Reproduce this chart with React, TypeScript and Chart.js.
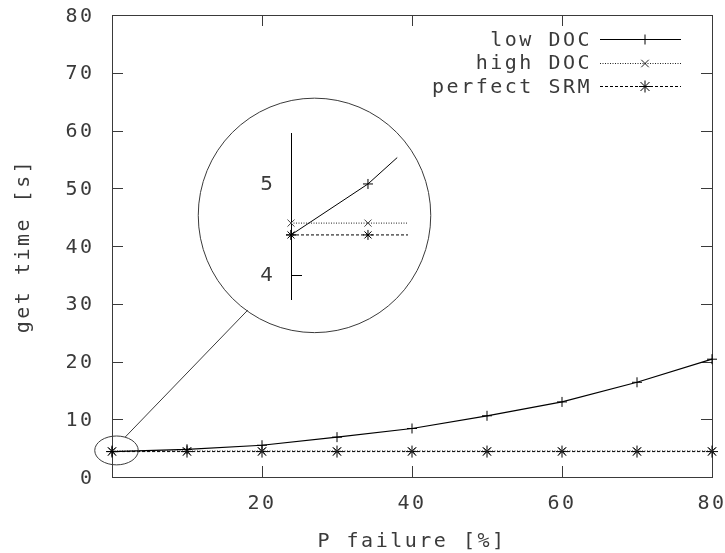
import React, { useEffect, useRef } from 'react';
import { Chart, registerables } from 'chart.js';

Chart.register(...registerables);

// ---- data (main chart) ----
const failureX = [0, 10, 20, 30, 40, 50, 60, 70, 80];
const lowDoc = [4.4, 4.8, 5.5, 6.9, 8.4, 10.6, 13.0, 16.4, 20.4];
const highDoc = [4.5, 4.5, 4.5, 4.5, 4.5, 4.5, 4.5, 4.5, 4.5];
const perfectSrm = [4.4, 4.4, 4.4, 4.4, 4.4, 4.4, 4.4, 4.4, 4.4];
const seriesLabels = ['low DOC', 'high DOC', 'perfect SRM'];
const xTicks = [0, 20, 40, 60, 80];
const xTickLabels = ['', '20', '40', '60', '80'];
const yTicks = [0, 10, 20, 30, 40, 50, 60, 70, 80];
const yTickLabels = ['0', '10', '20', '30', '40', '50', '60', '70', '80'];

// ---- data (zoom inset) ----
const insetLowX = [0, 10, 13.8];
const insetLow = [4.44, 5.0, 5.29];
const insetHighX = [0, 10, 15.2];
const insetHigh = [4.57, 4.57, 4.57];
const insetSrmX = [0, 10, 15.2];
const insetSrm = [4.44, 4.44, 4.44];
const insetTicks = [4, 5];
const insetTickLabels = ['4', '5'];
const insetTickMarks = [4];

// ---- annotation geometry (main chart data units) ----
const zoomMarker = { x: 0.6, y: 4.6, rx: 2.9, ry: 2.5 };
const zoomLens = { x: 27.0, y: 45.3, rx: 15.5, ry: 20.3 };
const connector = { x1: 1.75, y1: 6.9, x2: 18.1, y2: 28.9 };

const MONO = '"DejaVu Sans Mono", monospace';
const INK = '#3a3a3a';

function drawMarker(ctx: CanvasRenderingContext2D, style: string, x: number, y: number, r: number) {
  ctx.beginPath();
  if (style === 'cross' || style === 'star') {
    ctx.moveTo(x - r, y); ctx.lineTo(x + r, y);
    ctx.moveTo(x, y - r); ctx.lineTo(x, y + r);
  }
  if (style === 'crossRot' || style === 'star') {
    const d = r * 0.75;
    ctx.moveTo(x - d, y - d); ctx.lineTo(x + d, y + d);
    ctx.moveTo(x - d, y + d); ctx.lineTo(x + d, y - d);
  }
  ctx.stroke();
}

const spacingPlugin = {
  id: 'spacing',
  beforeUpdate(chart: any) { chart.ctx.letterSpacing = '2.5px'; },
  beforeDraw(chart: any) { chart.ctx.letterSpacing = '2.5px'; },
};

const framePlugin = {
  id: 'frame',
  beforeDatasetsDraw(chart: any) {
    const { ctx, chartArea, scales } = chart;
    const { left, right, top, bottom } = chartArea;
    const xs = scales.x, ys = scales.y;
    ctx.save();
    ctx.strokeStyle = INK;
    ctx.lineWidth = 1;
    ctx.strokeRect(Math.round(left) + 0.5, Math.round(top) + 0.5, Math.round(right - left), Math.round(bottom - top));
    const t = 11;
    ctx.beginPath();
    for (const v of xTicks) {
      if (v <= xs.min || v >= xs.max) continue;
      const px = Math.round(xs.getPixelForValue(v)) + 0.5;
      ctx.moveTo(px, bottom); ctx.lineTo(px, bottom - t);
      ctx.moveTo(px, top); ctx.lineTo(px, top + t);
    }
    for (const v of yTicks) {
      if (v <= ys.min || v >= ys.max) continue;
      const py = Math.round(ys.getPixelForValue(v)) + 0.5;
      ctx.moveTo(left, py); ctx.lineTo(left + t, py);
      ctx.moveTo(right, py); ctx.lineTo(right - t, py);
    }
    ctx.stroke();
    ctx.restore();
  },
  afterDatasetsDraw(chart: any) {
    const { ctx, chartArea, scales } = chart;
    const xs = scales.x, ys = scales.y;
    ctx.save();
    ctx.strokeStyle = INK;
    ctx.lineWidth = 1;
    const ell = (e: any) => {
      const cx = xs.getPixelForValue(e.x), cy = ys.getPixelForValue(e.y);
      const rx = xs.getPixelForValue(e.x + e.rx) - cx;
      const ry = cy - ys.getPixelForValue(e.y + e.ry);
      ctx.beginPath();
      ctx.ellipse(cx, cy, rx, ry, 0, 0, Math.PI * 2);
      ctx.stroke();
    };
    ell(zoomMarker);
    ell(zoomLens);
    ctx.beginPath();
    ctx.moveTo(xs.getPixelForValue(connector.x1), ys.getPixelForValue(connector.y1));
    ctx.lineTo(xs.getPixelForValue(connector.x2), ys.getPixelForValue(connector.y2));
    ctx.stroke();

    // legend
    const right = chartArea.right;
    ctx.font = '20px ' + MONO;
    ctx.textAlign = 'right';
    ctx.textBaseline = 'middle';
    ctx.fillStyle = INK;
    chart.data.datasets.forEach((ds: any, i: number) => {
      const y = chartArea.top + 24 + i * 23.5;
      ctx.fillText(ds.label, right - 120, y + 1.5);
      ctx.save();
      ctx.strokeStyle = ds.borderColor;
      ctx.lineWidth = ds.borderWidth;
      ctx.setLineDash(ds.borderDash || []);
      ctx.beginPath();
      ctx.moveTo(right - 112, Math.round(y) + 0.5);
      ctx.lineTo(right - 31, Math.round(y) + 0.5);
      ctx.stroke();
      ctx.setLineDash([]);
      ctx.lineWidth = 1;
      drawMarker(ctx, ds.pointStyle, right - 67, Math.round(y) + 0.5, ds.pointRadius);
      ctx.restore();
    });
    ctx.restore();
  },
};

const insetPlugin = {
  id: 'insetTicks',
  afterDraw(chart: any) {
    const { ctx, chartArea, scales } = chart;
    ctx.save();
    ctx.strokeStyle = '#000';
    ctx.lineWidth = 1;
    ctx.beginPath();
    for (const v of insetTickMarks) {
      const py = Math.round(scales.y.getPixelForValue(v)) + 0.5;
      ctx.moveTo(chartArea.left, py);
      ctx.lineTo(chartArea.left + 11, py);
    }
    ctx.stroke();
    ctx.restore();
  },
};

export default function App() {
  const mainRef = useRef<HTMLCanvasElement>(null);
  const insetRef = useRef<HTMLCanvasElement>(null);

  useEffect(() => {
    const mk = (xv: number[], yv: number[]) => xv.map((x, i) => ({ x, y: yv[i] }));
    const main = new Chart(mainRef.current!, {
      type: 'line',
      data: {
        datasets: [
          {
            label: seriesLabels[0], data: mk(failureX, lowDoc),
            borderColor: '#000', borderWidth: 1.2, pointStyle: 'cross', pointRadius: 5,
            pointBorderColor: '#000', pointBorderWidth: 1, fill: false, tension: 0,
          },
          {
            label: seriesLabels[1], data: mk(failureX, highDoc),
            borderColor: '#222', borderWidth: 1, borderDash: [1, 1.5], pointStyle: 'crossRot', pointRadius: 5,
            pointBorderColor: '#222', pointBorderWidth: 1, fill: false, tension: 0,
          },
          {
            label: seriesLabels[2], data: mk(failureX, perfectSrm),
            borderColor: '#000', borderWidth: 1, borderDash: [3, 2], pointStyle: 'star', pointRadius: 6,
            pointBorderColor: '#000', pointBorderWidth: 1, fill: false, tension: 0,
          },
        ] as any,
      },
      options: {
        animation: false,
        responsive: false,
        devicePixelRatio: 1,
        layout: { padding: { top: 15, right: 13, left: 0, bottom: 0 } },
        plugins: { legend: { display: false }, tooltip: { enabled: false } },
        elements: { point: { hitRadius: 0 } },
        clip: false as any,
        scales: {
          x: {
            type: 'linear', min: 0, max: 80,
            grid: { display: false, drawTicks: false },
            border: { display: false },
            afterBuildTicks: (s: any) => { s.ticks = xTicks.map((v) => ({ value: v })); },
            afterFit: (s: any) => { s.height = 76; s.paddingLeft = 0; s.paddingRight = 0; },
            ticks: {
              padding: 16.5, color: INK, maxRotation: 0, autoSkip: false,
              font: { family: MONO, size: 20, lineHeight: 1 },
              callback: (v: any) => xTickLabels[xTicks.indexOf(Number(v))] ?? '',
            },
            title: {
              display: true, text: 'P failure [%]', color: INK,
              font: { family: MONO, size: 20, lineHeight: 1 }, padding: { top: 0, bottom: 1.5 },
            },
          },
          y: {
            type: 'linear', min: 0, max: 80,
            grid: { display: false, drawTicks: false },
            border: { display: false },
            afterBuildTicks: (s: any) => { s.ticks = yTicks.map((v) => ({ value: v })); },
            afterFit: (s: any) => { s.width = 112; s.paddingTop = 0; s.paddingBottom = 0; },
            ticks: {
              padding: 17.5, color: INK, autoSkip: false, labelOffset: 1.5,
              font: { family: MONO, size: 20, lineHeight: 1 },
              callback: (v: any) => yTickLabels[yTicks.indexOf(Number(v))] ?? '',
            },
            title: {
              display: true, text: 'get time [s]', color: INK,
              font: { family: MONO, size: 20, lineHeight: 1 }, padding: { top: 14, bottom: 0 },
            },
          },
        },
      } as any,
      plugins: [spacingPlugin, framePlugin],
    });

    const inset = new Chart(insetRef.current!, {
      type: 'line',
      data: {
        datasets: [
          {
            label: seriesLabels[0], data: mk(insetLowX, insetLow),
            borderColor: '#000', borderWidth: 1, pointStyle: 'cross', pointRadius: [5, 5, 0] as any,
            pointBorderColor: '#000', pointBorderWidth: 1, tension: 0,
          },
          {
            label: seriesLabels[1], data: mk(insetHighX, insetHigh),
            borderColor: '#222', borderWidth: 1, borderDash: [1, 1.5], pointStyle: 'crossRot', pointRadius: [5, 5, 0] as any,
            pointBorderColor: '#444', pointBorderWidth: 1, tension: 0,
          },
          {
            label: seriesLabels[2], data: mk(insetSrmX, insetSrm),
            borderColor: '#000', borderWidth: 1, borderDash: [3, 2], pointStyle: 'star', pointRadius: [5, 5, 0] as any,
            pointBorderColor: '#000', pointBorderWidth: 1, tension: 0,
          },
        ] as any,
      },
      options: {
        animation: false,
        responsive: false,
        devicePixelRatio: 1,
        layout: { padding: { top: 33, right: 12, left: 0, bottom: 21 } },
        plugins: { legend: { display: false }, tooltip: { enabled: false } },
        clip: false as any,
        scales: {
          x: { type: 'linear', min: 0, max: 15.2, display: false },
          y: {
            type: 'linear', min: 3.736, max: 5.56,
            grid: { display: false, drawTicks: false },
            border: { display: true, color: '#000', width: 1 },
            afterBuildTicks: (s: any) => { s.ticks = insetTicks.map((v) => ({ value: v })); },
            afterFit: (s: any) => { s.width = 51; s.paddingTop = 0; s.paddingBottom = 0; },
            ticks: {
              padding: 18, color: INK, autoSkip: false, labelOffset: 1,
              font: { family: '"DejaVu Sans", sans-serif', size: 20, lineHeight: 1 },
              callback: (v: any) => insetTickLabels[insetTicks.indexOf(Number(v))] ?? '',
            },
          },
        },
      } as any,
      plugins: [insetPlugin],
    });

    return () => { main.destroy(); inset.destroy(); };
  }, []);

  return (
    <div style={{ position: 'fixed', left: 0, top: 0, width: 725, height: 553, background: '#fff' }}>
      <canvas ref={mainRef} width={725} height={553} style={{ position: 'absolute', left: 0, top: 0, display: 'block' }} />
      <canvas ref={insetRef} width={180} height={220} style={{ position: 'absolute', left: 240, top: 100, display: 'block', pointerEvents: 'none' }} />
    </div>
  );
}
